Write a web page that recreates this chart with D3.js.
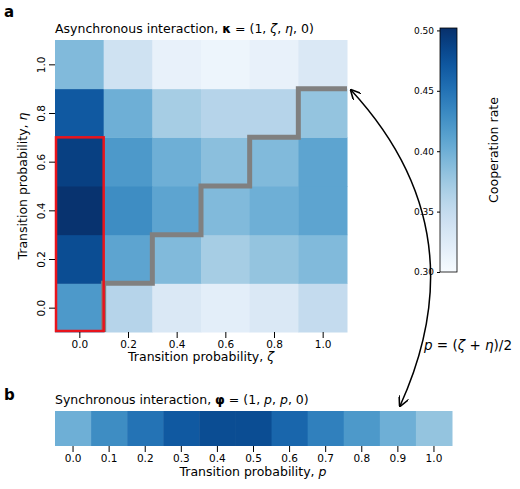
<!DOCTYPE html>
<html><head><meta charset="utf-8">
<script src="https://cdn.jsdelivr.net/npm/d3@7"></script>
<style>body{margin:0;background:#fff}text{font-family:"DejaVu Sans",sans-serif}</style>
</head><body><svg id="c" width="520" height="489"></svg>
<script>
const zetaVals=[0,0.2,0.4,0.6,0.8,1.0];
const etaVals=[0,0.2,0.4,0.6,0.8,1.0];
// rows indexed by eta (0 -> 1.0), columns by zeta
const coopAsync=[
 [0.42,0.36,0.33,0.32,0.33,0.35],
 [0.48,0.41,0.39,0.37,0.38,0.39],
 [0.50,0.43,0.41,0.39,0.40,0.41],
 [0.49,0.42,0.40,0.385,0.39,0.41],
 [0.47,0.40,0.37,0.36,0.36,0.38],
 [0.39,0.34,0.315,0.31,0.315,0.33]
];
const pVals=[0,0.1,0.2,0.3,0.4,0.5,0.6,0.7,0.8,0.9,1.0];
const coopSync=[0.40,0.43,0.45,0.47,0.48,0.48,0.46,0.44,0.42,0.40,0.38];
const cbTicks=[0.30,0.35,0.40,0.45,0.50];
const stairZ=[0.1,0.1,0.3,0.3,0.5,0.5,0.7,0.7,0.9,0.9,1.1];
const stairE=[-0.1,0.1,0.1,0.3,0.3,0.5,0.5,0.7,0.7,0.9,0.9];

const svg=d3.select("#c");
const color=d3.scaleSequential(d3.interpolateBlues).domain([0.30,0.502]);
const x=d3.scaleLinear().domain([-0.1,1.1]).range([55,347]);
const y=d3.scaleLinear().domain([-0.1,1.1]).range([332,40]);
const cw=x(0.2)-x(0), ch=y(0)-y(0.2);
const g=svg.append("g");
coopAsync.forEach((row,i)=>row.forEach((v,j)=>{
 g.append("rect").attr("x",x(zetaVals[j])-cw/2).attr("y",y(etaVals[i])-ch/2)
  .attr("width",cw+0.5).attr("height",ch+0.5).attr("fill",color(v));
}));
svg.append("path").attr("d",d3.line().x(d=>x(d[0])).y(d=>y(d[1]))(stairZ.map((z,i)=>[z,stairE[i]])))
 .attr("fill","none").attr("stroke","#808080").attr("stroke-width",5);
svg.append("rect").attr("x",x(-0.1)+1).attr("y",y(0.7)).attr("width",x(0.1)-x(-0.1)-1).attr("height",y(-0.1)-y(0.7)-1)
 .attr("fill","none").attr("stroke","#e8141c").attr("stroke-width",2.5);
const ax=svg.append("g").attr("transform","translate(0,332)").call(d3.axisBottom(x).tickValues(zetaVals).tickFormat(d3.format(".1f")).tickSizeOuter(0));
ax.select(".domain").remove();
ax.selectAll("text").attr("font-size",10.5).attr("fill","#000");
const ay=svg.append("g").attr("transform","translate(55,0)").call(d3.axisLeft(y).tickValues(etaVals).tickFormat(d3.format(".1f")).tickSizeOuter(0));
ay.select(".domain").remove();
ay.selectAll("text").attr("font-size",10.5).attr("fill","#000").attr("transform","rotate(-90)")
 .attr("x",0).attr("y",-10).attr("dy","0").attr("text-anchor","middle");
svg.append("text").attr("x",201).attr("y",361).attr("text-anchor","middle").attr("font-size",12.5)
 .html('Transition probability, <tspan font-style="italic">ζ</tspan>');
svg.append("text").attr("transform","translate(27,186) rotate(-90)").attr("text-anchor","middle").attr("font-size",12.5)
 .html('Transition probability, <tspan font-style="italic">η</tspan>');
svg.append("text").attr("x",55).attr("y",33).attr("font-size",12.5)
 .html('Asynchronous interaction, <tspan font-weight="bold">κ</tspan> = (1, <tspan font-style="italic">ζ</tspan>, <tspan font-style="italic">η</tspan>, 0)');
svg.append("text").attr("x",4).attr("y",17).attr("font-size",15).attr("font-weight","bold").text("a");
svg.append("text").attr("x",4).attr("y",400).attr("font-size",15).attr("font-weight","bold").text("b");

// colorbar
const cy=d3.scaleLinear().domain([0.30,0.502]).range([272,28]);
const defs=svg.append("defs");
const grad=defs.append("linearGradient").attr("id","gr").attr("x1",0).attr("y1",1).attr("x2",0).attr("y2",0);
d3.range(0,1.001,0.05).forEach(t=>grad.append("stop").attr("offset",t).attr("stop-color",color(0.30+t*0.202)));
svg.append("rect").attr("x",440).attr("y",28).attr("width",17).attr("height",244).attr("fill","url(#gr)").attr("stroke","#000").attr("stroke-width",0.8);
const cax=svg.append("g").attr("transform","translate(440,0)").call(d3.axisLeft(cy).tickValues(cbTicks).tickFormat(d3.format(".2f")).tickSize(3));
cax.select(".domain").remove();cax.selectAll("text").attr("font-size",9).attr("fill","#000");
svg.append("text").attr("transform","translate(498,150) rotate(-90)").attr("text-anchor","middle").attr("font-size",12.5).text("Cooperation rate");

// bottom strip
const xb=d3.scaleBand().domain(pVals).range([55,452]);
pVals.forEach((p,i)=>svg.append("rect").attr("x",xb(p)).attr("y",411).attr("width",xb.bandwidth()+0.5).attr("height",35).attr("fill",color(coopSync[i])));
const bx=svg.append("g").attr("transform","translate(0,446)").call(d3.axisBottom(xb).tickFormat(d3.format(".1f")).tickSizeOuter(0));
bx.select(".domain").remove();bx.selectAll("text").attr("font-size",10.5).attr("fill","#000");
svg.append("text").attr("x",253).attr("y",476).attr("text-anchor","middle").attr("font-size",12.5)
 .html('Transition probability, <tspan font-style="italic">p</tspan>');
svg.append("text").attr("x",55).attr("y",404).attr("font-size",12.5)
 .html('Synchronous interaction, <tspan font-weight="bold">φ</tspan> = (1, <tspan font-style="italic">p</tspan>, <tspan font-style="italic">p</tspan>, 0)');

// arrow
const mk=defs.append("marker").attr("id","ah").attr("viewBox","0 0 10 10").attr("refX",9).attr("refY",5)
 .attr("markerWidth",7).attr("markerHeight",7).attr("orient","auto-start-reverse");
mk.append("path").attr("d","M0,0L10,5L0,10").attr("fill","none").attr("stroke","#000").attr("stroke-width",1.5);
svg.append("path").attr("d","M351,90 Q480,230 400,406").attr("fill","none").attr("stroke","#000").attr("stroke-width",1.5)
 .attr("marker-start","url(#ah)").attr("marker-end","url(#ah)");
svg.append("text").attr("x",424).attr("y",350).attr("font-size",13.5)
 .html('<tspan font-style="italic">p</tspan> = (<tspan font-style="italic">ζ</tspan> + <tspan font-style="italic">η</tspan>)/2');
</script></body></html>
